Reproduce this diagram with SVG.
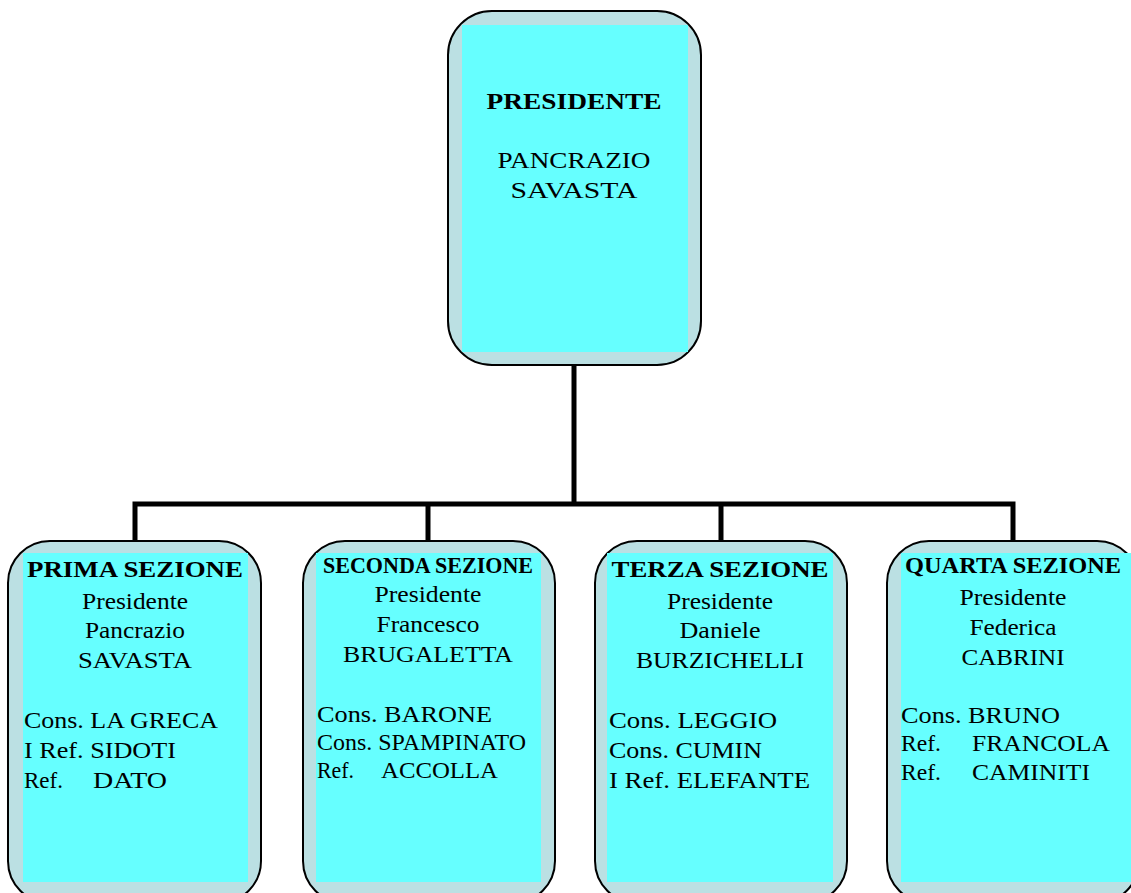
<svg xmlns="http://www.w3.org/2000/svg" width="1131" height="893" viewBox="0 0 1131 893">
<style>
.outer{fill:#BBE0E3;stroke:#000;stroke-width:2}
.inner{fill:#66FFFF}
.t{font-family:"Liberation Serif","Times New Roman",serif;font-size:23px;fill:#000}
.c{text-anchor:middle}
.b{font-weight:bold}
.conn{fill:none;stroke:#000;stroke-width:5}
</style>
<rect width="1131" height="893" fill="#fff"/>
<g id="connectors">
<line class="conn" x1="574" y1="365" x2="574" y2="504"/>
<polyline class="conn" points="135,541 135,504 1013,504 1013,541"/>
<line class="conn" x1="428" y1="504" x2="428" y2="541"/>
<line class="conn" x1="721" y1="504" x2="721" y2="541"/>
</g>
<g id="presidente">
<rect class="outer" x="448" y="11" width="253" height="354" rx="44"/>
<rect class="inner" x="462" y="25" width="226" height="327"/>
<text class="t c b" x="574" y="109" font-size="24" textLength="175" lengthAdjust="spacingAndGlyphs">PRESIDENTE</text>
<text class="t c" x="574" y="168" font-size="22" textLength="153" lengthAdjust="spacingAndGlyphs">PANCRAZIO</text>
<text class="t c" x="574" y="198" font-size="22" textLength="127" lengthAdjust="spacingAndGlyphs">SAVASTA</text>
</g>
<g id="prima">
<rect class="outer" x="8" y="541" width="253" height="362" rx="42"/>
<rect class="inner" x="23" y="553" width="225" height="329"/>
<text class="t c b" x="135" y="577" textLength="216" lengthAdjust="spacingAndGlyphs">PRIMA SEZIONE</text>
<text class="t c" x="135" y="609" textLength="106" lengthAdjust="spacingAndGlyphs">Presidente</text>
<text class="t c" x="135" y="638" textLength="100" lengthAdjust="spacingAndGlyphs">Pancrazio</text>
<text class="t c" x="135" y="668" textLength="114" lengthAdjust="spacingAndGlyphs">SAVASTA</text>
<text class="t" x="24" y="728" textLength="194" lengthAdjust="spacingAndGlyphs">Cons. LA GRECA</text>
<text class="t" x="24" y="758" textLength="152" lengthAdjust="spacingAndGlyphs">I Ref. SIDOTI</text>
<text class="t" x="24" y="788" textLength="39" lengthAdjust="spacingAndGlyphs">Ref.</text>
<text class="t" x="93" y="788" textLength="74" lengthAdjust="spacingAndGlyphs">DATO</text>
</g>
<g id="seconda">
<rect class="outer" x="303" y="541" width="252" height="362" rx="42"/>
<rect class="inner" x="316" y="553" width="225" height="329"/>
<text class="t c b" x="428" y="573" font-size="18" textLength="210" lengthAdjust="spacingAndGlyphs">SECONDA SEZIONE</text>
<text class="t c" x="428" y="602" textLength="107" lengthAdjust="spacingAndGlyphs">Presidente</text>
<text class="t c" x="428" y="632" textLength="103" lengthAdjust="spacingAndGlyphs">Francesco</text>
<text class="t c" x="428" y="662" textLength="170" lengthAdjust="spacingAndGlyphs">BRUGALETTA</text>
<text class="t" x="317" y="722" textLength="175" lengthAdjust="spacingAndGlyphs">Cons. BARONE</text>
<text class="t" x="317" y="750" textLength="209" lengthAdjust="spacingAndGlyphs">Cons. SPAMPINATO</text>
<text class="t" x="317" y="778" textLength="37" lengthAdjust="spacingAndGlyphs">Ref.</text>
<text class="t" x="381" y="778" textLength="117" lengthAdjust="spacingAndGlyphs">ACCOLLA</text>
</g>
<g id="terza">
<rect class="outer" x="595" y="541" width="252" height="362" rx="42"/>
<rect class="inner" x="607" y="553" width="226" height="329"/>
<text class="t c b" x="720" y="577" textLength="217" lengthAdjust="spacingAndGlyphs">TERZA SEZIONE</text>
<text class="t c" x="720" y="609" textLength="106" lengthAdjust="spacingAndGlyphs">Presidente</text>
<text class="t c" x="720" y="638" textLength="81" lengthAdjust="spacingAndGlyphs">Daniele</text>
<text class="t c" x="720" y="668" textLength="168" lengthAdjust="spacingAndGlyphs">BURZICHELLI</text>
<text class="t" x="609" y="728" textLength="168" lengthAdjust="spacingAndGlyphs">Cons. LEGGIO</text>
<text class="t" x="609" y="758" textLength="153" lengthAdjust="spacingAndGlyphs">Cons. CUMIN</text>
<text class="t" x="609" y="788" textLength="201" lengthAdjust="spacingAndGlyphs">I Ref. ELEFANTE</text>
</g>
<g id="quarta">
<rect class="outer" x="887" y="541" width="252" height="362" rx="42"/>
<rect class="inner" x="901" y="553" width="232" height="329"/>
<text class="t c b" x="1013" y="573" font-size="19" textLength="216" lengthAdjust="spacingAndGlyphs">QUARTA SEZIONE</text>
<text class="t c" x="1013" y="605" textLength="107" lengthAdjust="spacingAndGlyphs">Presidente</text>
<text class="t c" x="1013" y="635" textLength="87" lengthAdjust="spacingAndGlyphs">Federica</text>
<text class="t c" x="1013" y="665" textLength="103" lengthAdjust="spacingAndGlyphs">CABRINI</text>
<text class="t" x="901" y="723" textLength="159" lengthAdjust="spacingAndGlyphs">Cons. BRUNO</text>
<text class="t" x="901" y="751" textLength="40" lengthAdjust="spacingAndGlyphs">Ref.</text>
<text class="t" x="972" y="751" textLength="138" lengthAdjust="spacingAndGlyphs">FRANCOLA</text>
<text class="t" x="901" y="780" textLength="40" lengthAdjust="spacingAndGlyphs">Ref.</text>
<text class="t" x="972" y="780" textLength="118" lengthAdjust="spacingAndGlyphs">CAMINITI</text>
</g>
</svg>
